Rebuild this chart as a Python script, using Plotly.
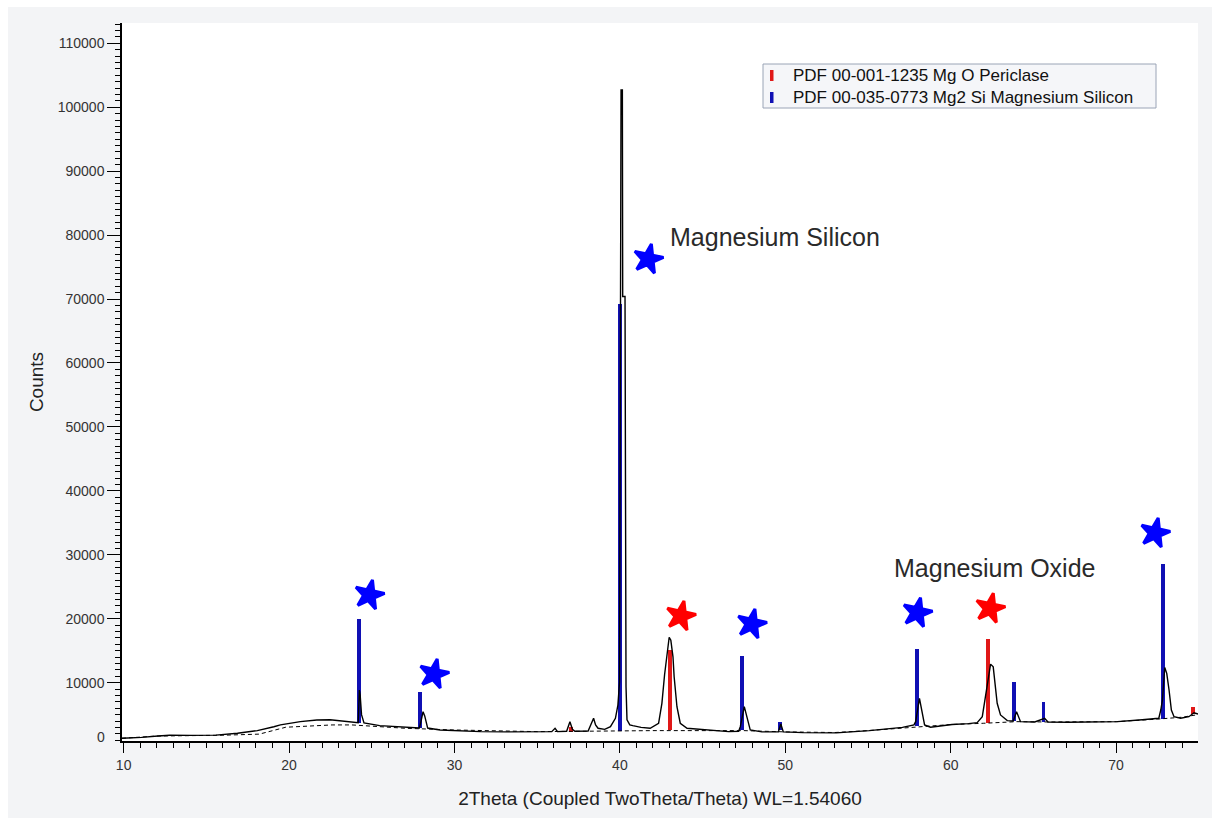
import plotly.graph_objects as go

# ---------------- data ----------------
two_theta = [9.9, 10.08, 11.08, 12.08, 12.78, 14.08, 15.58, 16.88, 18.08, 19.08, 19.48, 20.68,
             21.68, 22.48, 23.08, 23.88, 24.18, 24.25, 24.3, 24.38, 24.53, 25.48, 26.28, 27.48,
             27.88, 27.98, 28.1, 28.2, 28.38, 29.13, 31.58, 33.08, 35.18, 35.88, 36.08, 36.23,
             36.78, 36.98, 37.13, 37.28, 38.08, 38.28, 38.41, 38.53, 38.68, 39.08, 39.43, 39.73,
             39.88, 39.98, 40.07, 40.15, 40.17, 40.31, 40.33, 40.37, 40.43, 40.6, 40.78, 41.28,
             41.83, 42.34, 42.54, 42.7, 42.98, 43.08, 43.21, 43.28, 43.45, 43.65, 44.06, 45.28,
             46.58, 47.18, 47.28, 47.52, 47.68, 47.88, 48.58, 49.58, 49.73, 49.88, 51.08, 53.08,
             55.08, 57.08, 57.78, 57.88, 58.11, 58.28, 58.42, 58.78, 60.08, 61.08, 61.6, 61.91,
             62.11, 62.32, 62.41, 62.57, 62.67, 62.81, 63.01, 63.42, 63.78, 63.98, 64.22, 65.08,
             65.68, 65.88, 67.08, 69.08, 70.08, 71.58, 72.38, 72.58, 72.7, 72.8, 72.94, 73.06,
             73.2, 73.34, 73.5, 73.9, 74.4, 74.71, 74.95]
counts = [1300, 1310, 1450, 1650, 1780, 1760, 1800, 2090, 2500, 3100, 3390, 3900,
          4170, 4200, 4060, 3800, 3750, 8850, 8000, 5000, 3700, 3280, 3120, 2870,
          2900, 4000, 5460, 4800, 2900, 2600, 2340, 2300, 2340, 2340, 2870, 2340,
          2400, 3900, 2700, 2400, 2450, 3800, 4430, 3400, 2870, 2700, 3120, 4430,
          6500, 10100, 102700, 102700, 70400, 70400, 26400, 9400, 4200, 3400, 3280, 3000,
          2870, 3650, 6770, 11200, 17100, 16650, 14040, 10920, 6240, 3650, 2870, 2600,
          2340, 2400, 3120, 6240, 4430, 2600, 2300, 2300, 3540, 2300, 2180, 2150,
          2500, 3000, 3390, 3900, 7550, 5200, 3390, 3030, 3450, 3600, 3740, 4680,
          7800, 11450, 12900, 12480, 9890, 6770, 4950, 4060, 4000, 5460, 3900, 3850,
          4430, 3850, 3800, 3850, 3900, 4200, 4430, 4430, 5720, 7280, 12380, 11450,
          8850, 5720, 4680, 4430, 4680, 5300, 5100]

bg_theta = [9.9, 12.0, 16.0, 17.0, 18.2, 19.8, 22.6, 23.8, 25.0, 27.0, 30.0, 35.0, 42.0,
            47.5, 50.0, 53.0, 55.0, 58.0, 60.0, 62.0, 64.0, 66.0, 70.0, 72.5, 74.0, 74.95]
bg_counts = [1300, 1650, 1780, 1830, 1950, 3030, 3390, 3390, 3200, 2870, 2600, 2340, 2500,
             2500, 2300, 2200, 2500, 3100, 3450, 3650, 3900, 3850, 3900, 4300, 4600, 5000]

mgo_pos = [37.04, 43.01, 62.25, 74.65]
mgo_top = [3120, 15080, 16760, 6240]
mgo_base = [2340, 2600, 3650, 5100]

mg2si_pos = [24.2, 27.93, 40.03, 47.38, 49.66, 57.98, 63.84, 65.61, 72.86]
mg2si_top = [20030, 8580, 69200, 14150, 3900, 15190, 10050, 7020, 28500]
mg2si_base = [3700, 2870, 2500, 2600, 2600, 3230, 4060, 3900, 4270]

star_blue_theta = [24.85, 28.76, 41.71, 47.97, 57.98, 72.35]
star_blue_counts = [23710, 11350, 76250, 19180, 20940, 33410]
star_red_theta = [43.68, 62.38]
star_red_counts = [20430, 21630]

label_text = ["Magnesium Silicon", "Magnesium Oxide"]
label_theta = [42.91, 56.43]
label_counts = [79700, 27930]

legend_names = ["PDF 00-001-1235 Mg O Periclase",
                "PDF 00-035-0773 Mg2 Si Magnesium Silicon"]

x_ticks = [10, 20, 30, 40, 50, 60, 70]
y_ticks = [0, 10000, 20000, 30000, 40000, 50000, 60000, 70000, 80000, 90000, 100000, 110000]

# ---------------- styling ----------------
FONT = "Liberation Sans, Arial, sans-serif"
RED = "#e01818"
BLUE = "#1010b4"
W, H = 1212, 828
L, R, T, B = 122, 1198, 23, 741   # plot area in pixels

fig = go.Figure()

fig.add_trace(go.Scatter(x=bg_theta, y=bg_counts, mode="lines",
                         line=dict(color="black", width=1, dash="4px,3px"),
                         showlegend=False, hoverinfo="skip"))
fig.add_trace(go.Scatter(x=two_theta, y=counts, mode="lines",
                         line=dict(color="black", width=1.4),
                         showlegend=False))

fig.add_trace(go.Bar(x=mgo_pos, y=[t - b for t, b in zip(mgo_top, mgo_base)], base=mgo_base,
                     width=0.24, marker=dict(color=RED, line=dict(width=0)),
                     name=legend_names[0], showlegend=False))
fig.add_trace(go.Bar(x=mg2si_pos, y=[t - b for t, b in zip(mg2si_top, mg2si_base)], base=mg2si_base,
                     width=0.24, marker=dict(color=BLUE, line=dict(width=0)),
                     name=legend_names[1], showlegend=False))

fig.add_trace(go.Scatter(x=star_blue_theta, y=star_blue_counts, mode="markers",
                         marker=dict(symbol="star", size=22, color="#0000ff", angle=12,
                                     line=dict(width=3, color="#0000ff")), showlegend=False))
fig.add_trace(go.Scatter(x=star_red_theta, y=star_red_counts, mode="markers",
                         marker=dict(symbol="star", size=22, color="#ff0000", angle=12,
                                     line=dict(width=3, color="#ff0000")), showlegend=False))

for txt, xv, yv in zip(label_text, label_theta, label_counts):
    fig.add_annotation(x=xv, y=yv, text=txt, showarrow=False, xanchor="left", yanchor="middle",
                       font=dict(family=FONT, size=25, color="#2a2a2a"))

pw, ph = R - L, B - T
def px_x(p):
    return (p - L) / pw
def px_y(p):
    return (B - p) / ph

# "0" label at the foot of the count axis
fig.add_annotation(xref="paper", yref="paper", x=0, y=0, text="0", showarrow=False,
                   xanchor="right", yanchor="middle", xshift=-15, yshift=4,
                   font=dict(family=FONT, size=14, color="#333333"))

# white border around the grey panel
for x0, x1, y0, y1 in [(0, 8, 0, H), (0, W, 0, 7), (0, W, 818, H)]:
    fig.add_shape(type="rect", xref="paper", yref="paper",
                  x0=px_x(x0), x1=px_x(x1), y0=px_y(y1), y1=px_y(y0),
                  fillcolor="white", line=dict(width=0), layer="below")

# legend box (drawn by hand to match the compact reference legend)
fig.add_shape(type="rect", xref="paper", yref="paper",
              x0=px_x(763), x1=px_x(1156), y0=px_y(108), y1=px_y(64),
              fillcolor="#f5f6f9", line=dict(color="#9aa4b6", width=1), layer="above")
for i, (name, col) in enumerate(zip(legend_names, [RED, BLUE])):
    yc = 75 + 22 * i
    fig.add_shape(type="rect", xref="paper", yref="paper",
                  x0=px_x(770), x1=px_x(773.5), y0=px_y(yc + 6), y1=px_y(yc - 5),
                  fillcolor=col, line=dict(width=0), layer="above")
    fig.add_annotation(xref="paper", yref="paper", x=px_x(791), y=px_y(yc), text=name,
                       showarrow=False, xanchor="left", yanchor="middle",
                       font=dict(family=FONT, size=17, color="#111111"))

axis_common = dict(showgrid=False, zeroline=False, showline=True, linecolor="black",
                   linewidth=1.5, ticks="outside", tickcolor="black", tickwidth=1,
                   tickfont=dict(family=FONT, size=14, color="#333333"))

fig.update_layout(
    width=W, height=H, autosize=False,
    margin=dict(l=L, r=W - R, t=T, b=H - B, pad=0),
    paper_bgcolor="#f3f4f6", plot_bgcolor="white",
    barmode="overlay", bargap=0, showlegend=False,
    font=dict(family=FONT),
    xaxis=dict(range=[9.9, 74.95], tickmode="array", tickvals=x_ticks, ticklen=10,
               minor=dict(tick0=0, dtick=1, ticklen=5, ticks="outside", tickcolor="black"),
               title=dict(text="2Theta (Coupled TwoTheta/Theta) WL=1.54060",
                          font=dict(family=FONT, size=19, color="#222222"), standoff=20),
               **axis_common),
    yaxis=dict(range=[876, 113170], tickmode="array", tickvals=y_ticks, ticklen=13,
               tickformat="d",
               minor=dict(tick0=0, dtick=1000, ticklen=5, ticks="outside", tickcolor="black"),
               title=dict(text="Counts", font=dict(family=FONT, size=19, color="#222222"),
                          standoff=9),
               **axis_common),
)

fig.write_html("out.html")
